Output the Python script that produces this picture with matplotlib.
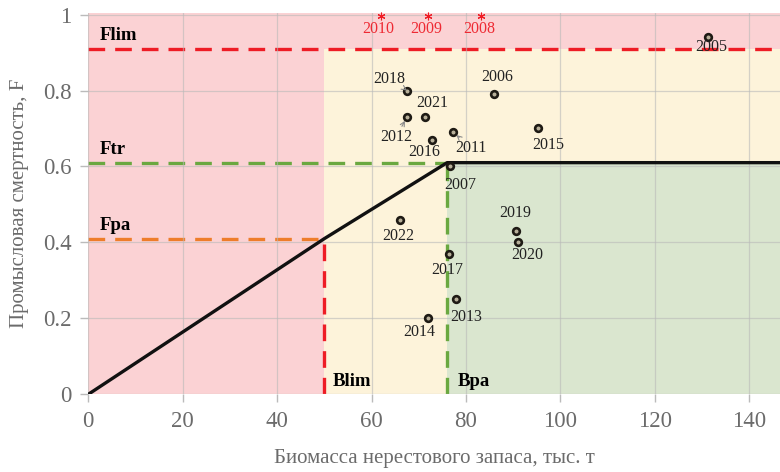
import matplotlib.pyplot as plt

plt.rcParams['font.family'] = ['Liberation Serif', 'DejaVu Serif']

# reference points
Blim = 50
Bpa = 76
Flim = 0.91
Ftr = 0.61
Fpa = 0.41

# biomass (thousand t) and fishing mortality by year
years = ['2005', '2006', '2007', '2011', '2012', '2013', '2014', '2015',
         '2016', '2017', '2018', '2019', '2020', '2021', '2022']
biomass = [131.3, 85.9, 76.6, 77.3, 67.5, 77.9, 72.0, 95.3,
           72.8, 76.4, 67.5, 90.6, 91.0, 71.3, 66.0]
fmort = [0.94, 0.79, 0.60, 0.69, 0.73, 0.25, 0.20, 0.70,
         0.67, 0.37, 0.80, 0.43, 0.40, 0.73, 0.46]

# years with F above the chart (marked with *)
off_years = ['2010', '2009', '2008']
off_biomass = [62.0, 72.0, 83.2]

# label offsets in pixels (dx, dy) and whether an arrow is drawn
offsets = {
    '2005': (3, -10, False), '2006': (3, 17, False), '2007': (10, -19, False),
    '2011': (18, -16, True), '2012': (-11, -20, True), '2013': (10, -18, False),
    '2014': (-9, -14, False), '2015': (10, -17, False), '2016': (-8, -12, False),
    '2017': (-2, -16, False), '2018': (-18, 12, True), '2019': (-1, 18, False),
    '2020': (9, -13, False), '2021': (7, 14, False), '2022': (-2, -16, False),
}

xmax = 146.5
ytop = 1.005

pink = '#fbd2d4'
cream = '#fdf3da'
green = '#dae6cf'

fig = plt.figure(figsize=(7.8, 4.72), dpi=100)
ax = fig.add_axes([0.1132, 0.1646, 0.8868, 0.8086])

# zones
ax.fill_between([0, Blim], 0, ytop, color=pink, lw=0, zorder=0)
ax.fill_between([Blim, xmax], Flim, ytop, color=pink, lw=0, zorder=0)
ax.fill_between([Blim, Bpa], 0, Flim, color=cream, lw=0, zorder=0)
ax.fill_between([Bpa, xmax], Ftr, Flim, color=cream, lw=0, zorder=0)
ax.fill_between([Bpa, xmax], 0, Ftr, color=green, lw=0, zorder=0)

ax.set_axisbelow(False)
ax.grid(True, color='#b9b9b9', lw=0.9, alpha=0.6, zorder=1)

dash = (5, 3)
ax.plot([0, xmax], [Flim, Flim], color='#ee1c25', lw=2.4, dashes=dash, zorder=2)
ax.plot([0, Bpa], [Ftr, Ftr], color='#6aa840', lw=2.4, dashes=dash, zorder=2)
ax.plot([0, Blim], [Fpa, Fpa], color='#ee7d2a', lw=2.4, dashes=dash, zorder=2)
ax.plot([Blim, Blim], [0, Fpa], color='#ee1c25', lw=2.4, dashes=dash, zorder=2)
ax.plot([Bpa, Bpa], [0, Ftr], color='#6aa840', lw=2.4, dashes=dash, zorder=2)

# harvest control rule
ax.plot([0, Blim, Bpa, xmax], [0, Fpa, Ftr, Ftr], color='#111111', lw=2.4,
        solid_capstyle='butt', zorder=3)

ax.text(2.5, Flim + 0.012, 'Flim', fontsize=13.5, fontweight='bold', va='bottom', zorder=5)
ax.text(2.5, Ftr + 0.012, 'Ftr', fontsize=13.5, fontweight='bold', va='bottom', zorder=5)
ax.text(2.5, Fpa + 0.012, 'Fpa', fontsize=13.5, fontweight='bold', va='bottom', zorder=5)
ax.text(Blim + 1.7, 0.035, 'Blim', fontsize=13.5, fontweight='bold', va='center', zorder=5)
ax.text(Bpa + 2.3, 0.035, 'Bpa', fontsize=13.5, fontweight='bold', va='center', zorder=5)

ax.plot(biomass, fmort, 'o', ms=4.8, mfc='#b8b09a', mec='#1e1a14', mew=1.9, zorder=4)

for yr, b, f in zip(years, biomass, fmort):
    dx, dy, arrow = offsets[yr]
    props = None
    if arrow:
        props = dict(arrowstyle='->', color='#8a8a8a', lw=0.8, shrinkA=0, shrinkB=3,
                     mutation_scale=8)
    ax.annotate(yr, (b, f), xytext=(dx, dy), textcoords='offset pixels',
                ha='center', va='center', fontsize=11.5, color='#222222',
                arrowprops=props, zorder=5)

# asterisks for years off the top of the chart
ax.plot(off_biomass, [0.997] * len(off_biomass), ls='none', marker=(6, 2, 0),
        ms=5.5, mew=0.8, color='#ee1c25', zorder=5, clip_on=False)
for yr, b in zip(off_years, off_biomass):
    ax.text(b - 0.5, 0.962, yr, color='#ee2a33', fontsize=11.5, ha='center', va='center', zorder=5)

ax.set_xlim(0, xmax)
ax.set_ylim(0, ytop)
ax.set_xticks([0, 20, 40, 60, 80, 100, 120, 140])
ax.set_yticks([0, 0.2, 0.4, 0.6, 0.8, 1])
ax.set_yticklabels(['0', '0.2', '0.4', '0.6', '0.8', '1'])
ax.tick_params(labelsize=16.5, labelcolor='#6b6b6b', color='#bbbbbb', length=6, width=1)
ax.tick_params(axis='y', pad=6)
ax.tick_params(axis='x', pad=6)
for s in ax.spines.values():
    s.set_visible(False)

ax.set_xlabel('Биомасса нерестового запаса, тыс. т', fontsize=15, color='#6b6b6b', labelpad=12)
ax.set_ylabel('Промысловая смертность, F', fontsize=15, color='#6b6b6b', labelpad=10)

fig.savefig('out.png', dpi=100)
